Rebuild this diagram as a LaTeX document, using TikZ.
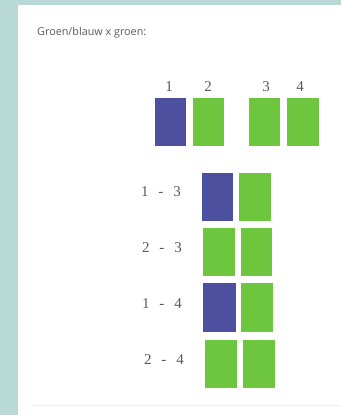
\documentclass[tikz,border=0pt]{standalone}
\usepackage{fontspec}
\newfontfamily\titlefont{Open Sans}
\newfontfamily\numfont{Liberation Serif}
\definecolor{bgteal}{HTML}{B9D9D6}
\definecolor{barblue}{HTML}{4C509F}
\definecolor{bargreen}{HTML}{6DC63D}
\definecolor{txtgray}{HTML}{5A5A5A}
\begin{document}
\begin{tikzpicture}[x=1pt,y=-1pt,
  bluebar/.style={fill=barblue,draw=none},
  greenbar/.style={fill=bargreen,draw=none},
  numlbl/.style={text=txtgray,font=\numfont\fontsize{15}{15}\selectfont,inner sep=0pt},
  pairlbl/.style={text=txtgray,font=\numfont\fontsize{15}{15}\selectfont,inner sep=0pt},
  ttl/.style={text=txtgray,font=\titlefont\fontsize{10.8}{12}\selectfont,inner sep=0pt,anchor=west}]
\useasboundingbox (0,0) rectangle (341,415);
\fill[bgteal] (0,0) rectangle (341,415);
\fill[white] (18,5) rectangle (341,415);
\draw[black!6] (30,405) -- (341,405);
\node[ttl] (title) at (37,33) {Groen/blauw x groen:};
% top bars
\fill[bluebar] (155,98) rectangle (186,146);
\fill[greenbar] (193,98) rectangle (224,146);
\fill[greenbar] (249,98) rectangle (280,146);
\fill[greenbar] (287,98) rectangle (319,146);
\node[numlbl] (n1) at (169,87) {1};
\node[numlbl] (n2) at (208,87) {2};
\node[numlbl] (n3) at (266,87) {3};
\node[numlbl] (n4) at (300,87) {4};
% pairs
\fill[bluebar] (202,173) rectangle (233,221);
\fill[greenbar] (239,173) rectangle (271,221);
\fill[greenbar] (203,228) rectangle (235,276);
\fill[greenbar] (241,228) rectangle (272,276);
\fill[bluebar] (203,283) rectangle (236,332);
\fill[greenbar] (241,283) rectangle (273,332);
\fill[greenbar] (205,340) rectangle (237,388);
\fill[greenbar] (243,340) rectangle (275,388);
\node[pairlbl] (p1) at (161,192) {1\hspace{10pt}-\hspace{10pt}3};
\node[pairlbl] (p2) at (162,248) {2\hspace{10pt}-\hspace{10pt}3};
\node[pairlbl] (p3) at (162,304) {1\hspace{10pt}-\hspace{10pt}4};
\node[pairlbl] (p4) at (164,360) {2\hspace{10pt}-\hspace{10pt}4};
\end{tikzpicture}
\end{document}
